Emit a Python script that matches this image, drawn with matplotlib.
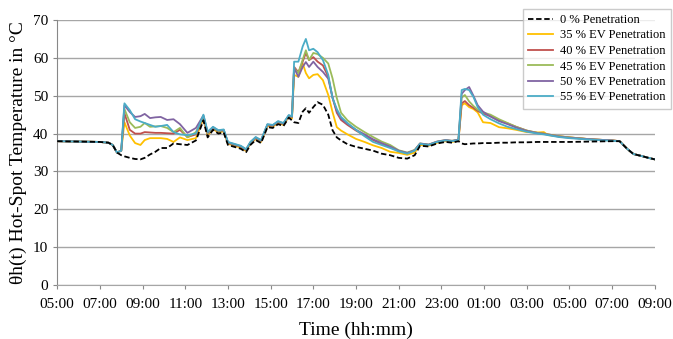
import matplotlib
matplotlib.use("Agg")
import matplotlib.pyplot as plt
import matplotlib.ticker as mticker

# time in hours from 05:00 (5) to 09:00 next day (33)
hours = [5.0, 6.0, 7.0, 7.4, 7.6, 7.8, 8.0, 8.15, 8.4, 8.65,
         8.9, 9.1, 9.35, 9.6, 9.85, 10.15, 10.45, 10.75, 11.1, 11.5,
         11.85, 12.05, 12.3, 12.55, 12.8, 13.0, 13.3, 13.6, 13.85, 14.05,
         14.3, 14.55, 14.85, 15.1, 15.35, 15.6, 15.85, 16.0, 16.1, 16.3,
         16.5, 16.65, 16.8, 17.0, 17.2, 17.45, 17.7, 17.9, 18.1, 18.3,
         18.6, 19.0, 19.4, 19.8, 20.2, 20.6, 21.0, 21.4, 21.75, 22.0,
         22.4, 22.8, 23.2, 23.5, 23.8, 23.95, 24.1, 24.3, 24.5, 24.7,
         24.95, 25.3, 25.7, 26.1, 26.5, 27.0, 27.5, 27.8, 28.0, 28.5,
         29.0, 30.0, 31.0, 31.35, 31.7, 32.0, 32.3, 32.7, 33.0]

pen_0 = [38.0, 37.9, 37.8, 37.6, 37.0, 35.0, 34.3, 34.0, 33.6, 33.3,
         33.2, 33.6, 34.5, 35.2, 36.2, 36.2, 37.4, 37.2, 37.0, 38.2,
         43.5, 39.0, 41.0, 40.0, 40.3, 37.0, 36.5, 36.0, 35.1, 37.0,
         38.3, 37.5, 41.7, 41.5, 42.5, 42.0, 44.2, 43.5, 43.0, 42.8,
         45.8, 46.7, 45.5, 47.0, 48.3, 47.6, 45.0, 40.9, 39.0, 38.2,
         37.2, 36.5, 36.0, 35.5, 34.7, 34.3, 33.6, 33.4, 34.3, 36.8,
         36.6, 37.4, 37.8, 37.6, 38.0, 37.4, 37.2, 37.3, 37.4, 37.4,
         37.5, 37.5, 37.6, 37.6, 37.7, 37.7, 37.8, 37.8, 37.8, 37.8,
         37.8, 37.9, 38.0, 38.0, 36.0, 34.6, 34.2, 33.6, 33.2]

pen_35 = [38.0, 37.9, 37.8, 37.6, 37.0, 35.0, 35.5, 43.0, 39.5, 37.5,
          37.0, 38.3, 38.8, 38.8, 38.8, 38.6, 37.8, 39.0, 38.3, 38.8,
          44.0, 39.5, 41.2, 40.3, 40.6, 37.3, 36.8, 36.3, 35.4, 37.3,
          38.6, 37.8, 42.0, 41.8, 42.8, 42.3, 44.4, 44.0, 55.5, 55.0,
          58.6, 56.0, 54.6, 55.5, 55.7, 54.1, 50.2, 45.7, 41.7, 40.8,
          39.8, 38.6, 37.8, 36.9, 36.2, 35.2, 34.9, 34.4, 35.0, 37.0,
          36.8, 37.6, 38.0, 37.8, 38.2, 47.5, 48.0, 47.0, 46.5, 45.6,
          43.0, 42.8, 41.7, 41.4, 41.0, 40.4, 40.3, 40.4, 39.6, 39.3,
          39.0, 38.5, 38.2, 38.0, 36.0, 34.6, 34.2, 33.6, 33.2]

pen_40 = [38.0, 37.9, 37.8, 37.6, 37.0, 35.0, 35.5, 45.4, 41.0, 40.0,
          40.0, 40.4, 40.3, 40.2, 40.2, 40.1, 40.0, 41.0, 39.1, 39.8,
          44.3, 39.8, 41.4, 40.5, 40.8, 37.5, 37.0, 36.5, 35.6, 37.5,
          38.8, 38.0, 42.2, 42.0, 43.0, 42.5, 44.6, 44.3, 57.6, 56.2,
          59.0, 61.3, 59.4, 60.2, 59.0, 58.0, 55.0, 49.5, 45.5, 43.6,
          42.3, 40.8, 39.5, 38.3, 37.3, 36.4, 35.4, 34.8, 35.6, 37.3,
          37.0, 37.8, 38.2, 38.0, 38.3, 48.0, 48.6, 47.5, 46.8, 46.0,
          45.3, 44.6, 43.5, 42.7, 41.8, 40.8, 40.2, 40.0, 39.8, 39.3,
          39.0, 38.5, 38.2, 38.0, 36.0, 34.6, 34.2, 33.6, 33.2]

pen_45 = [38.0, 37.9, 37.8, 37.6, 37.0, 35.0, 35.5, 46.5, 43.0, 41.5,
          41.8, 42.8, 41.8, 41.9, 42.0, 41.5, 40.4, 41.5, 39.0, 40.4,
          44.5, 40.0, 41.5, 40.6, 40.9, 37.6, 37.1, 36.6, 35.7, 37.6,
          38.9, 38.1, 42.3, 42.1, 43.1, 42.6, 44.7, 44.4, 57.3, 56.0,
          59.5, 62.0, 59.4, 61.3, 61.0, 60.0, 58.5, 54.6, 49.4, 45.5,
          43.5, 41.8, 40.4, 39.1, 37.9, 37.0, 35.6, 35.0, 35.7, 37.4,
          37.1, 37.9, 38.3, 38.1, 38.4, 49.5, 50.2, 48.5, 47.3, 46.3,
          45.6, 45.0, 43.8, 42.8, 41.8, 40.8, 40.2, 40.0, 39.8, 39.3,
          39.0, 38.5, 38.2, 38.0, 36.0, 34.6, 34.2, 33.6, 33.2]

pen_50 = [38.0, 37.9, 37.8, 37.6, 37.0, 35.0, 35.5, 47.5, 45.7, 44.4,
          44.6, 45.2, 44.1, 44.3, 44.4, 43.6, 43.8, 42.5, 40.2, 41.5,
          44.8, 40.3, 41.7, 40.8, 41.0, 37.7, 37.2, 36.7, 35.8, 37.7,
          39.0, 38.2, 42.4, 42.2, 43.2, 42.7, 44.8, 44.5, 57.3, 55.0,
          57.6, 58.9, 57.6, 59.0, 57.6, 56.3, 54.5, 49.5, 46.0, 44.0,
          42.6, 41.0, 39.8, 38.5, 37.5, 36.6, 35.5, 34.9, 35.6, 37.4,
          37.1, 37.9, 38.3, 38.1, 38.4, 50.5, 51.5, 52.3, 50.0, 47.5,
          45.8, 44.5, 43.3, 42.5, 41.6, 40.7, 40.1, 39.9, 39.7, 39.2,
          38.9, 38.5, 38.2, 38.0, 36.0, 34.6, 34.2, 33.6, 33.2]

pen_55 = [38.0, 37.9, 37.8, 37.6, 37.0, 35.0, 35.5, 48.0, 46.2, 43.8,
          43.2, 42.8, 42.3, 41.8, 42.0, 42.3, 40.4, 39.8, 39.6, 40.0,
          45.0, 40.5, 41.8, 40.9, 41.1, 37.8, 37.3, 36.8, 35.9, 37.8,
          39.1, 38.3, 42.5, 42.3, 43.3, 42.8, 44.9, 44.6, 59.0, 59.0,
          63.0, 65.0, 62.0, 62.4, 61.5, 59.4, 55.5, 49.4, 46.5, 44.4,
          42.8, 41.0, 39.3, 37.8, 37.0, 36.2, 35.3, 34.7, 35.5, 37.3,
          37.0, 37.8, 38.2, 38.0, 38.3, 51.5, 51.8, 51.5, 49.7, 47.0,
          45.0, 43.8, 42.7, 41.8, 41.2, 40.5, 40.0, 39.8, 39.6, 39.1,
          38.8, 38.4, 38.1, 38.0, 36.0, 34.6, 34.2, 33.6, 33.2]

labels = ["0 % Penetration", "35 % EV Penetration", "40 % EV Penetration",
          "45 % EV Penetration", "50 % EV Penetration", "55 % EV Penetration"]
colors = ["black", "#FFC000", "#C0504D", "#9BBB59", "#8064A2", "#4BACC6"]
tick_hours = [5, 7, 9, 11, 13, 15, 17, 19, 21, 23, 25, 27, 29, 31, 33]

plt.rcParams['font.family'] = ['Liberation Serif', 'DejaVu Serif']

fig = plt.figure(figsize=(6.73, 3.39), dpi=100)
ax = fig.add_axes([0.085, 0.159, 0.888, 0.782])

series = [pen_35, pen_40, pen_45, pen_50, pen_55]
for ys, lab, col in zip(series, labels[1:], colors[1:]):
    ax.plot(hours, ys, color=col, lw=1.3, label=lab)
ax.plot(hours, pen_0, color=colors[0], lw=1.3, ls=(0, (3, 1.5)), label=labels[0], zorder=5)

ax.set_xlim(5, 33)
ax.set_ylim(0, 70)
ax.set_xticks(tick_hours)
ax.set_xticklabels(["%02d:00" % (h % 24) for h in tick_hours])
ax.yaxis.set_major_locator(mticker.MultipleLocator(10))
ax.grid(axis="y", color="#A6A6A6", lw=1)
ax.set_axisbelow(True)
for s in ["top", "right"]:
    ax.spines[s].set_visible(False)
ax.spines["left"].set_color("#888888")
ax.spines["bottom"].set_color("#A6A6A6")
ax.tick_params(axis="both", labelsize=11, length=3, color="#888888")
ax.tick_params(axis="x", pad=6)
ax.set_xlabel("Time (hh:mm)", fontsize=14, labelpad=8)
ax.set_ylabel("θh(t) Hot-Spot Temperature in °C", fontsize=14, labelpad=4)

handles, labs = ax.get_legend_handles_labels()
order = [5, 0, 1, 2, 3, 4]
leg = ax.legend([handles[i] for i in order], [labs[i] for i in order],
                loc="upper right", bbox_to_anchor=(671 / 673, 1 - 9 / 339),
                bbox_transform=fig.transFigure, fontsize=9, frameon=True,
                fancybox=False, edgecolor="#BFBFBF", handlelength=2.0,
                handletextpad=0.6, labelspacing=0.28, borderpad=0.4,
                borderaxespad=0)
leg.get_frame().set_linewidth(1)

fig.savefig("out.png", dpi=100)
